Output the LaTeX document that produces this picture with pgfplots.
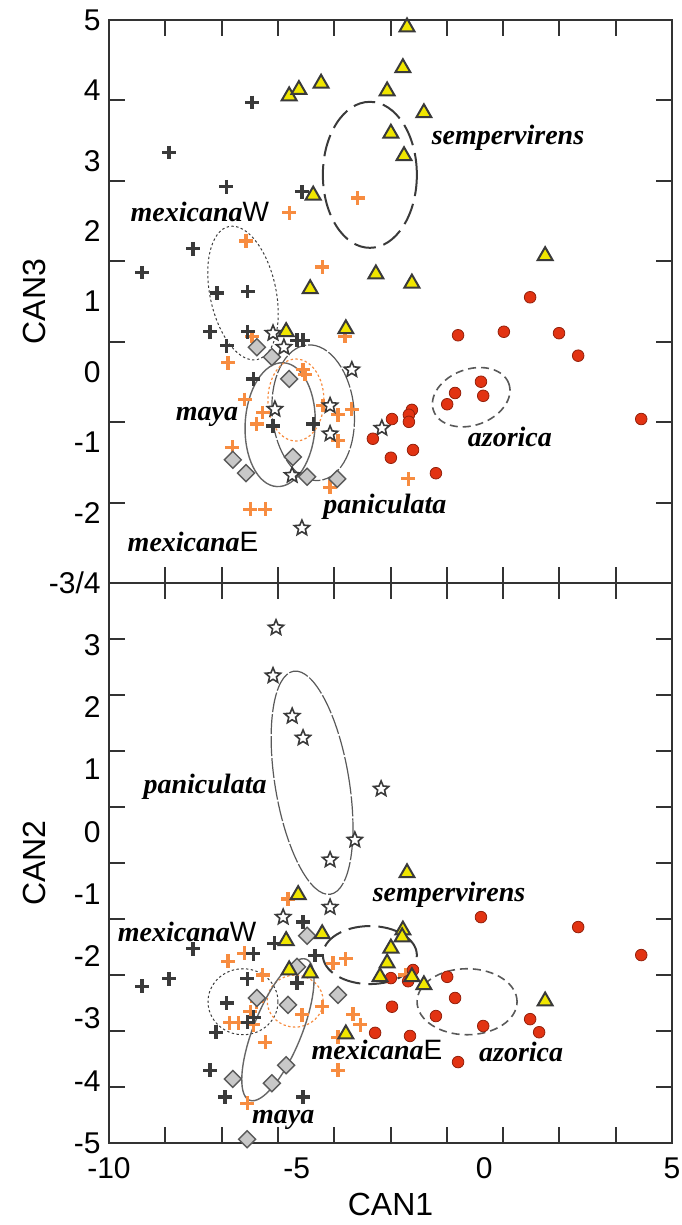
\documentclass[border=0pt]{standalone}
\usepackage{pgfplots}
\pgfplotsset{compat=1.18}
\usepackage{fontspec}
\setmainfont{Liberation Sans}
\newfontfamily\tnr{Liberation Serif}
\definecolor{dk}{HTML}{3A3A3A}
\definecolor{orng}{HTML}{F78C40}
\definecolor{yel}{HTML}{F0E600}
\definecolor{rd}{HTML}{E23312}
\definecolor{dia}{HTML}{C8C8C8}
\definecolor{diae}{HTML}{5A5A5A}
\definecolor{frame}{HTML}{333333}
\pgfdeclareplotmark{pstar}{%
  \pgfpathmoveto{\pgfpointpolar{90}{\pgfplotmarksize}}%
  \pgfpathlineto{\pgfpointpolar{126}{0.45\pgfplotmarksize}}%
  \pgfpathlineto{\pgfpointpolar{162}{\pgfplotmarksize}}%
  \pgfpathlineto{\pgfpointpolar{198}{0.45\pgfplotmarksize}}%
  \pgfpathlineto{\pgfpointpolar{234}{\pgfplotmarksize}}%
  \pgfpathlineto{\pgfpointpolar{270}{0.45\pgfplotmarksize}}%
  \pgfpathlineto{\pgfpointpolar{306}{\pgfplotmarksize}}%
  \pgfpathlineto{\pgfpointpolar{342}{0.45\pgfplotmarksize}}%
  \pgfpathlineto{\pgfpointpolar{18}{\pgfplotmarksize}}%
  \pgfpathlineto{\pgfpointpolar{54}{0.45\pgfplotmarksize}}%
  \pgfpathclose
  \pgfusepathqfillstroke
}
\pgfplotsset{
  base/.style={
    scale only axis, width=281.5pt,
    xmin=-10, xmax=5,
    xtick={-10,-5,0,5},
    minor xtick={-8.5,-7,-5.5,-4,-2.5,-1,0.5,2,3.5},
    major tick length=0pt, minor tick length=8pt,
    tick align=inside,
    axis line style={line width=1pt, color=frame},
    minor tick style={line width=1pt, color=frame},
    tick label style={font=\fontsize{15}{15}\selectfont, inner sep=0pt},
    xticklabel shift=7pt, yticklabel shift=4pt,
    label style={font=\fontsize{16}{16}\selectfont},
  },
  dcross/.style={only marks, mark=+, mark size=3.4pt, mark options={line width=1.6pt, color=dk}},
  ocross/.style={only marks, mark=+, mark size=3.4pt, mark options={line width=1.6pt, color=orng}},
  tri/.style={only marks, mark=triangle*, mark size=4.3pt, mark options={fill=yel, draw=dk, line width=1pt}},
  circ/.style={only marks, mark=*, mark size=2.9pt, mark options={fill=rd, draw=rd!65!black, line width=0.4pt}},
  stars/.style={only marks, mark=pstar, mark size=4pt, mark options={fill=white, draw=dk, line width=0.8pt}},
  dias/.style={only marks, mark=square*, mark size=3pt, mark options={rotate=45, fill=dia, draw=diae, line width=0.7pt}},
}
\tikzset{
  semp/.style={color=dk, line width=1pt, dash pattern=on 11pt off 4pt},
  mexw/.style={color=dk, line width=0.5pt, dash pattern=on 1.2pt off 1.2pt},
  mexe/.style={color=orng, line width=0.6pt, dash pattern=on 1.2pt off 1.2pt},
  mayae/.style={color=black!60, line width=0.7pt},
  pane/.style={color=black!65, line width=0.6pt, dash pattern=on 10pt off 1pt},
  azoe/.style={color=black!65, line width=0.8pt, dash pattern=on 4pt off 2.5pt},
  lab/.style={font=\tnr\bfseries\itshape\fontsize{14}{14}\selectfont, inner sep=0pt},
}
\newcommand{\sfl}[1]{{\normalfont\fontsize{14}{14}\selectfont #1}}
\begin{document}
\begin{tikzpicture}
\useasboundingbox (-54.5pt,-321pt) rectangle (286pt,291.5pt);
% ---------------- top panel ----------------
\begin{axis}[base, at={(0,0)}, anchor=south west, height=281.5pt,
  ymin=-3, ymax=5,
  ytick={-3,-2,-1,0,1,2,3,4,5}, yticklabels={-3/4,-2,-1,0,1,2,3,4,5},
  minor ytick={-1.857,-0.714,0.429,1.571,2.714,3.857},
  xticklabels={},
  ylabel={CAN3}, ylabel style={at={(rel axis cs:-0.133,0.5)}, anchor=center}]
\addplot[ocross] coordinates {(-5.20,2.26) (-3.37,2.47) (-6.35,1.86) (-4.32,1.49) (-6.19,0.50) (-6.83,0.13) (-4.83,0.03) (-4.78,-0.04) (-6.38,-0.39) (-5.90,-0.58) (-6.06,-0.74) (-3.90,-0.61) (-3.53,-0.53) (-4.30,-0.48) (-3.90,-0.98) (-6.72,-1.07) (-3.71,0.50) (-4.11,-1.64) (-6.24,-1.95) (-5.84,-1.95) (-2.03,-1.52)};
\addplot[dcross] coordinates {(-6.19,3.83) (-8.40,3.12) (-6.88,2.63) (-4.86,2.56) (-7.76,1.75) (-9.12,1.41) (-7.12,1.12) (-6.30,1.14) (-7.31,0.57) (-6.30,0.57) (-6.86,0.37) (-4.99,0.45) (-4.83,0.45) (-6.16,-0.10) (-5.63,-0.77) (-4.56,-0.74)};
\addplot[dias] coordinates {(-6.06,0.35) (-5.66,0.21) (-5.20,-0.10) (-5.10,-1.21) (-6.70,-1.25) (-6.35,-1.44) (-4.72,-1.49) (-3.92,-1.52)};
\addplot[stars] coordinates {(-5.63,0.55) (-5.34,0.35) (-3.53,0.03) (-5.58,-0.53) (-4.11,-0.48) (-4.11,-0.88) (-5.12,-1.47) (-4.86,-2.22) (-2.73,-0.80)};
\addplot[tri] coordinates {(-2.06,4.90) (-2.17,4.32) (-2.59,3.99) (-1.61,3.68) (-2.49,3.39) (-2.14,3.07) (-5.20,3.92) (-4.94,4.01) (-4.35,4.10) (-4.56,2.51) (-2.89,1.39) (-4.64,1.18) (-1.93,1.26) (1.62,1.65) (-5.28,0.57) (-3.69,0.61)};
\addplot[circ] coordinates {(1.22,1.06) (-0.70,0.52) (0.52,0.57) (1.99,0.55) (2.50,0.23) (-0.09,-0.14) (-0.78,-0.30) (-0.03,-0.34) (-0.99,-0.46) (-1.93,-0.54) (-2.01,-0.61) (-2.01,-0.71) (-2.46,-0.67) (4.18,-0.67) (-2.97,-0.95) (-2.49,-1.22) (-1.90,-1.11) (-1.29,-1.44)};
\draw[semp] (axis cs:-3.05,2.80) ellipse [x radius=23.5pt, y radius=36.5pt];
\draw[mexw] (axis cs:-6.43,1.12) ellipse [x radius=16.5pt, y radius=34pt, rotate=12];
\draw[mayae] (axis cs:-5.44,-0.75) ellipse [x radius=17.5pt, y radius=31pt, rotate=-3];
\draw[pane] (axis cs:-4.56,-0.58) ellipse [x radius=20.5pt, y radius=34pt, rotate=5];
\draw[mexe] (axis cs:-5.02,-0.40) ellipse [x radius=14pt, y radius=20.5pt];
\draw[azoe] (axis cs:-0.35,-0.36) ellipse [x radius=20pt, y radius=14pt, rotate=20];
\node[lab] at (axis cs:0.63,3.32) {sempervirens};
\node[lab] at (axis cs:-7.58,2.27) {mexicana\sfl{W}};
\node[lab] at (axis cs:-7.39,-0.64) {maya};
\node[lab] at (axis cs:-7.76,-2.42) {mexicana\sfl{E}};
\node[lab] at (axis cs:-2.65,-1.92) {paniculata};
\node[lab] at (axis cs:0.68,-0.93) {azorica};
\end{axis}
% ---------------- bottom panel ----------------
\begin{axis}[base, at={(0,0)}, anchor=north west, height=280pt,
  ymin=-5, ymax=4,
  ytick={-5,-4,-3,-2,-1,0,1,2,3}, yticklabels={-5,-4,-3,-2,-1,0,1,2,3},
  minor ytick={3.1,2.2,1.3,0.4,-0.5,-1.4,-2.3,-3.2,-4.1},
  xticklabels={-10,-5,0,5},
  xlabel={CAN1}, xlabel style={at={(rel axis cs:0.5,-0.1107)}, anchor=center},
  ylabel={CAN2}, ylabel style={at={(rel axis cs:-0.133,0.5)}, anchor=center}]
\addplot[ocross] coordinates {(-5.23,-1.08) (-6.40,-1.95) (-6.83,-2.08) (-5.90,-2.30) (-6.06,-2.73) (-6.24,-2.89) (-6.78,-3.07) (-6.56,-3.07) (-6.16,-3.10) (-4.86,-2.94) (-4.32,-2.81) (-4.03,-2.11) (-3.69,-2.04) (-3.50,-2.93) (-3.31,-3.10) (-3.90,-3.30) (-5.84,-3.38) (-3.90,-3.83) (-6.32,-4.36) (-2.11,-2.30)};
\addplot[dcross] coordinates {(-4.83,-1.45) (-5.60,-1.79) (-6.16,-1.96) (-4.51,-1.99) (-7.76,-1.88) (-8.40,-2.36) (-9.12,-2.48) (-6.32,-2.36) (-4.99,-2.43) (-6.86,-2.75) (-6.30,-3.06) (-6.14,-2.98) (-7.15,-3.22) (-7.31,-3.83) (-6.91,-4.26) (-4.83,-4.26)};
\addplot[dias] coordinates {(-4.72,-1.67) (-4.99,-2.17) (-6.06,-2.67) (-5.23,-2.78) (-3.90,-2.62) (-5.28,-3.75) (-5.66,-4.04) (-6.70,-3.97) (-6.32,-4.94)};
\addplot[stars] coordinates {(-5.55,3.28) (-5.63,2.51) (-5.12,1.86) (-4.83,1.51) (-2.75,0.69) (-3.45,-0.13) (-4.11,-0.45) (-4.11,-1.21) (-5.36,-1.37)};
\addplot[circ] coordinates {(-0.09,-1.37) (2.50,-1.53) (4.18,-1.98) (-1.90,-2.22) (-2.03,-2.40) (-2.49,-2.35) (-0.99,-2.33) (-0.78,-2.67) (-2.46,-2.81) (-1.29,-2.96) (-0.03,-3.12) (1.22,-3.01) (1.46,-3.22) (-1.98,-3.28) (-2.91,-3.23) (-0.70,-3.70)};
\addplot[tri] coordinates {(-4.96,-1.01) (-4.32,-1.64) (-5.28,-1.75) (-5.20,-2.22) (-4.64,-2.27) (-3.69,-3.25) (-2.06,-0.66) (-2.17,-1.58) (-2.19,-1.69) (-2.49,-1.87) (-2.59,-2.11) (-1.93,-2.33) (-1.61,-2.46) (1.62,-2.72) (-2.78,-2.33)};
\draw[pane] (axis cs:-4.59,0.79) ellipse [x radius=18.5pt, y radius=56.5pt, rotate=9.4];
\draw[semp] (axis cs:-3.05,-1.98) ellipse [x radius=23.5pt, y radius=14.5pt];
\draw[mexw] (axis cs:-6.43,-2.73) ellipse [x radius=17.5pt, y radius=16.5pt];
\draw[mexe] (axis cs:-5.04,-2.72) ellipse [x radius=14pt, y radius=13pt];
\draw[mayae] (axis cs:-5.50,-3.18) ellipse [x radius=12pt, y radius=38pt, rotate=-22];
\draw[azoe] (axis cs:-0.46,-2.73) ellipse [x radius=25pt, y radius=16.5pt];
\node[lab] at (axis cs:-7.44,0.72) {paniculata};
\node[lab] at (axis cs:-0.94,-1.01) {sempervirens};
\node[lab] at (axis cs:-7.92,-1.61) {mexicana\sfl{W}};
\node[lab] at (axis cs:-2.86,-3.51) {mexicana\sfl{E}};
\node[lab] at (axis cs:0.98,-3.54) {azorica};
\node[lab] at (axis cs:-5.36,-4.63) {maya};
\end{axis}
\end{tikzpicture}
\end{document}
